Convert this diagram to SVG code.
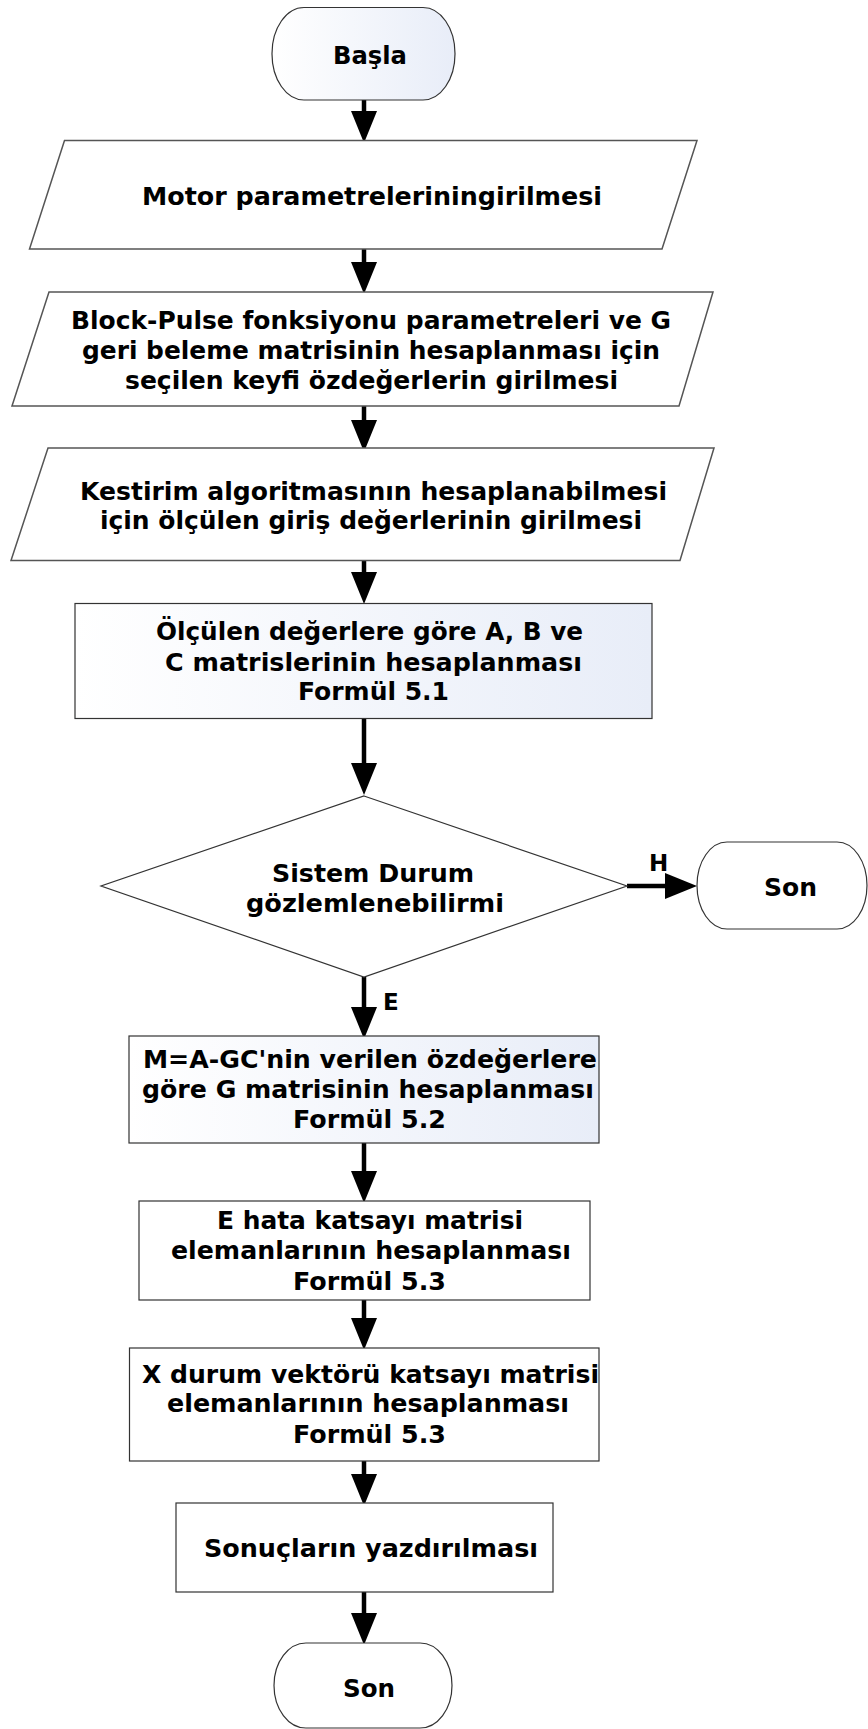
<svg xmlns="http://www.w3.org/2000/svg" width="868" height="1729" viewBox="0 0 868 1729">
<defs>
<linearGradient id="g" x1="0" y1="0" x2="1" y2="0">
<stop offset="0" stop-color="#ffffff"/>
<stop offset="1" stop-color="#e8edf8"/>
</linearGradient>
<marker id="ah" markerUnits="userSpaceOnUse" markerWidth="34" markerHeight="28" refX="1" refY="13" orient="auto">
<path d="M0,0 L32,13 L0,26 Z" fill="#000"/>
</marker>
<style>
.t{font-family:"DejaVu Sans",Verdana,sans-serif;font-weight:bold;font-size:24px;fill:#000;text-anchor:middle}
.l{font-family:"DejaVu Sans",Verdana,sans-serif;font-weight:bold;font-size:23px;fill:#000}
.s{stroke:#333;stroke-width:1.2}
.p{fill:#fff;stroke:#555;stroke-width:1.5}
.c{stroke:#000;stroke-width:4.5;fill:none;marker-end:url(#ah)}
</style>
</defs>
<rect width="868" height="1729" fill="#fff"/>
<g id="connectors">
<line class="c" x1="364" y1="100" x2="364" y2="112"/>
<line class="c" x1="364" y1="249" x2="364" y2="263"/>
<line class="c" x1="364" y1="406" x2="364" y2="421"/>
<line class="c" x1="364" y1="561" x2="364" y2="573"/>
<line class="c" x1="364" y1="719" x2="364" y2="764"/>
<line class="c" x1="364" y1="977" x2="364" y2="1008"/>
<line class="c" x1="364" y1="1143" x2="364" y2="1172"/>
<line class="c" x1="364" y1="1300" x2="364" y2="1319"/>
<line class="c" x1="364" y1="1461" x2="364" y2="1475"/>
<line class="c" x1="364" y1="1592" x2="364" y2="1614"/>
<line class="c" x1="627" y1="886" x2="666" y2="886"/>
<text class="l" x="649" y="871">H</text>
<text class="l" x="383" y="1010">E</text>
</g>
<g id="start">
<rect x="272" y="7.5" width="183" height="92.5" rx="32" ry="46" fill="url(#g)" class="s"/>
<text class="t" x="370" y="64" textLength="74" lengthAdjust="spacingAndGlyphs">Başla</text>
</g>
<g id="input1">
<polygon class="p" points="64.5,140.5 697,140.5 662,249 29.5,249"/>
<text class="t" x="372" y="205" textLength="460" lengthAdjust="spacingAndGlyphs">Motor parametreleriningirilmesi</text>
</g>
<g id="input2">
<polygon class="p" points="49,292 713,292 679,406 12,406"/>
<text class="t" x="371" y="329" textLength="600" lengthAdjust="spacingAndGlyphs">Block-Pulse fonksiyonu parametreleri ve G</text>
<text class="t" x="371" y="359" textLength="578" lengthAdjust="spacingAndGlyphs">geri beleme matrisinin hesaplanması için</text>
<text class="t" x="371.5" y="389" textLength="493" lengthAdjust="spacingAndGlyphs">seçilen keyfi özdeğerlerin girilmesi</text>
</g>
<g id="input3">
<polygon class="p" points="48,448 714,448 680,560.5 11,560.5"/>
<text class="t" x="373.5" y="500" textLength="587" lengthAdjust="spacingAndGlyphs">Kestirim algoritmasının hesaplanabilmesi</text>
<text class="t" x="371" y="529" textLength="542" lengthAdjust="spacingAndGlyphs">için ölçülen giriş değerlerinin girilmesi</text>
</g>
<g id="calcABC">
<rect x="75" y="603.5" width="577" height="115" fill="url(#g)" class="s"/>
<text class="t" x="369.5" y="640" textLength="427" lengthAdjust="spacingAndGlyphs">Ölçülen değerlere göre A,  B ve</text>
<text class="t" x="373.5" y="671" textLength="417" lengthAdjust="spacingAndGlyphs">C matrislerinin hesaplanması</text>
<text class="t" x="373.5" y="700" textLength="151" lengthAdjust="spacingAndGlyphs">Formül 5.1</text>
</g>
<g id="decision">
<polygon points="364,796 627,886 364,977 101,886" fill="#fff" class="s"/>
<text class="t" x="373" y="882" textLength="202" lengthAdjust="spacingAndGlyphs">Sistem Durum</text>
<text class="t" x="375" y="912" textLength="258" lengthAdjust="spacingAndGlyphs">gözlemlenebilirmi</text>
</g>
<g id="end1">
<rect x="697" y="842" width="170" height="87" rx="30" ry="43.5" fill="#fff" class="s"/>
<text class="t" x="790.5" y="896" textLength="53" lengthAdjust="spacingAndGlyphs">Son</text>
</g>
<g id="calcG">
<rect x="129" y="1036" width="470" height="107" fill="url(#g)" class="s"/>
<text class="t" x="370" y="1068" textLength="454" lengthAdjust="spacingAndGlyphs">M=A-GC'nin verilen özdeğerlere</text>
<text class="t" x="368" y="1098" textLength="452" lengthAdjust="spacingAndGlyphs">göre G matrisinin hesaplanması</text>
<text class="t" x="369.5" y="1128" textLength="153" lengthAdjust="spacingAndGlyphs">Formül 5.2</text>
</g>
<g id="calcE">
<rect x="139" y="1201" width="451" height="99" fill="#fff" class="s"/>
<text class="t" x="370" y="1229" textLength="306" lengthAdjust="spacingAndGlyphs">E hata katsayı matrisi</text>
<text class="t" x="371" y="1259" textLength="400" lengthAdjust="spacingAndGlyphs">elemanlarının hesaplanması</text>
<text class="t" x="369.5" y="1290" textLength="153" lengthAdjust="spacingAndGlyphs">Formül 5.3</text>
</g>
<g id="calcX">
<rect x="129.5" y="1348" width="469.5" height="113" fill="#fff" class="s"/>
<text class="t" x="370.5" y="1383" textLength="457" lengthAdjust="spacingAndGlyphs">X durum vektörü katsayı matrisi</text>
<text class="t" x="368" y="1412" textLength="402" lengthAdjust="spacingAndGlyphs">elemanlarının hesaplanması</text>
<text class="t" x="369.5" y="1443" textLength="153" lengthAdjust="spacingAndGlyphs">Formül 5.3</text>
</g>
<g id="output">
<rect x="176" y="1503" width="377" height="89" fill="#fff" class="s"/>
<text class="t" x="371" y="1557" textLength="334" lengthAdjust="spacingAndGlyphs">Sonuçların yazdırılması</text>
</g>
<g id="end2">
<rect x="274" y="1643" width="178" height="85" rx="32" ry="42.5" fill="#fff" class="s"/>
<text class="t" x="369" y="1697" textLength="52" lengthAdjust="spacingAndGlyphs">Son</text>
</g>
</svg>
